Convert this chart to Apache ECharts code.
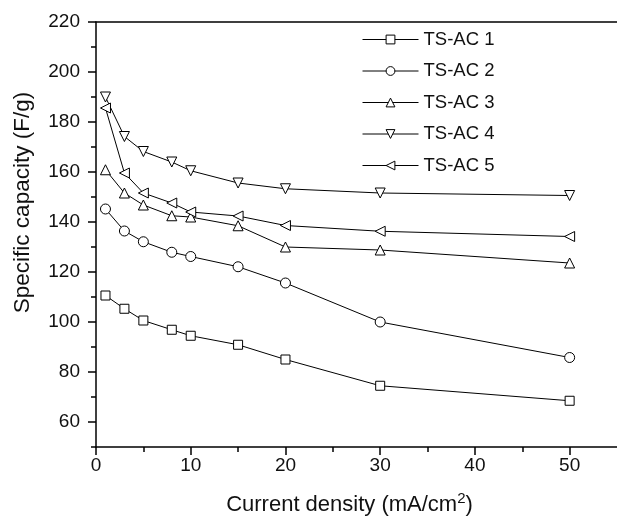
<!DOCTYPE html>
<html>
<head>
<meta charset="utf-8">
<script src="https://cdn.jsdelivr.net/npm/echarts@6/dist/echarts.min.js"></script>
<style>
html,body{margin:0;padding:0;background:#fff;}
#chart{width:617px;height:527px;}
</style>
</head>
<body>
<div id="chart"></div>
<script>
// ---- data ----
var currentDensity = [1, 3, 5, 8, 10, 15, 20, 30, 50];
var tsac1 = [110.6, 105.3, 100.6, 96.9, 94.5, 90.9, 85.0, 74.5, 68.5];
var tsac2 = [145.2, 136.4, 132.1, 127.9, 126.2, 122.1, 115.6, 100.0, 85.8];
var tsac3 = [160.9, 151.6, 146.8, 142.5, 142.0, 138.5, 130.0, 128.8, 123.6];
var tsac4 = [190.0, 174.2, 168.2, 164.0, 160.5, 155.6, 153.3, 151.6, 150.6];
var tsac5 = [185.6, 159.6, 151.6, 147.6, 144.0, 142.4, 138.6, 136.3, 134.2];
var seriesNames = ['TS-AC 1', 'TS-AC 2', 'TS-AC 3', 'TS-AC 4', 'TS-AC 5'];
var xTickLabels = [0, 10, 20, 30, 40, 50];
var xMinorTicks = [5, 15, 25, 35, 45];
var yTickLabels = [60, 80, 100, 120, 140, 160, 180, 200, 220];
var yMinorTicks = [50, 70, 90, 110, 130, 150, 170, 190, 210];

var FONT = '"Liberation Sans", Arial, Helvetica, sans-serif';
var chart = echarts.init(document.getElementById('chart'), null, {renderer: 'canvas'});

function pairs(ys) {
  return currentDensity.map(function (x, i) { return [x, ys[i]]; });
}

var lineCommon = {
  type: 'line',
  xAxisIndex: 0,
  yAxisIndex: 0,
  lineStyle: {color: '#000', width: 1},
  itemStyle: {color: '#fff', borderColor: '#000', borderWidth: 1},
  showAllSymbol: true,
  animation: false,
  emphasis: {disabled: true}
};

function mk(name, data, symbol, size, rotate) {
  return Object.assign({}, lineCommon, {
    name: name,
    data: pairs(data),
    symbol: symbol,
    symbolSize: size,
    symbolRotate: rotate || 0
  });
}

var axisLineStyle = {color: '#000', width: 1.5};

var option = {
  backgroundColor: '#fff',
  animation: false,
  textStyle: {fontFamily: FONT},
  grid: {left: 96, top: 22, width: 521, height: 425, containLabel: false, outerBoundsMode: 'none'},
  legend: {
    orient: 'vertical',
    left: 362,
    top: 30,
    padding: 0,
    itemWidth: 56,
    itemHeight: 11,
    itemGap: 12.5,
    itemTextGap: 6,
    itemStyle: {color: '#fff', borderColor: '#000', borderWidth: 1},
    lineStyle: {color: '#000', width: 1},
    textStyle: {fontFamily: FONT, fontSize: 18.5, color: '#111'},
    data: seriesNames
  },
  xAxis: [
    {
      type: 'value', position: 'bottom', min: 0, max: 55,
      name: 'Current density (mA/cm{sup|2})',
      nameLocation: 'middle', nameGap: 44,
      nameTextStyle: {
        fontFamily: FONT, fontSize: 22, color: '#111', padding: [0, 14, 0, 0],
        rich: {sup: {fontFamily: FONT, fontSize: 15, color: '#111', verticalAlign: 'top', padding: [0, 0, 12, 0]}}
      },
      axisLine: {show: true, onZero: false, lineStyle: axisLineStyle},
      axisTick: {show: true, inside: false, length: 8, lineStyle: axisLineStyle, customValues: xTickLabels},
      axisLabel: {show: true, margin: 9, fontFamily: FONT, fontSize: 19, color: '#111', customValues: xTickLabels},
      splitLine: {show: false}
    },
    {
      type: 'value', position: 'bottom', min: 0, max: 55,
      axisLine: {show: false},
      axisTick: {show: true, inside: false, length: 5, lineStyle: axisLineStyle, customValues: xMinorTicks},
      axisLabel: {show: false},
      splitLine: {show: false}
    },
    {
      type: 'value', position: 'top', min: 0, max: 55,
      axisLine: {show: true, onZero: false, lineStyle: axisLineStyle},
      axisTick: {show: false},
      axisLabel: {show: false},
      splitLine: {show: false}
    }
  ],
  yAxis: [
    {
      type: 'value', position: 'left', min: 50, max: 220,
      name: 'Specific capacity (F/g)',
      nameLocation: 'middle', nameGap: 62, nameRotate: 90,
      nameTextStyle: {fontFamily: FONT, fontSize: 22.5, color: '#111', padding: [0, 0, 0, 64]},
      axisLine: {show: true, onZero: false, lineStyle: axisLineStyle},
      axisTick: {show: true, inside: false, length: 8, lineStyle: axisLineStyle, customValues: yTickLabels},
      axisLabel: {show: true, margin: 16, fontFamily: FONT, fontSize: 19, color: '#111', customValues: yTickLabels},
      splitLine: {show: false}
    },
    {
      type: 'value', position: 'left', min: 50, max: 220,
      axisLine: {show: false},
      axisTick: {show: true, inside: false, length: 5, lineStyle: axisLineStyle, customValues: yMinorTicks},
      axisLabel: {show: false},
      splitLine: {show: false}
    }
  ],
  series: [
    mk(seriesNames[0], tsac1, 'rect', 9),
    mk(seriesNames[1], tsac2, 'circle', 10),
    mk(seriesNames[2], tsac3, 'triangle', 10),
    mk(seriesNames[3], tsac4, 'triangle', 10, 180),
    mk(seriesNames[4], tsac5, 'triangle', 10, 90)
  ]
};
chart.setOption(option);
</script>
</body>
</html>
